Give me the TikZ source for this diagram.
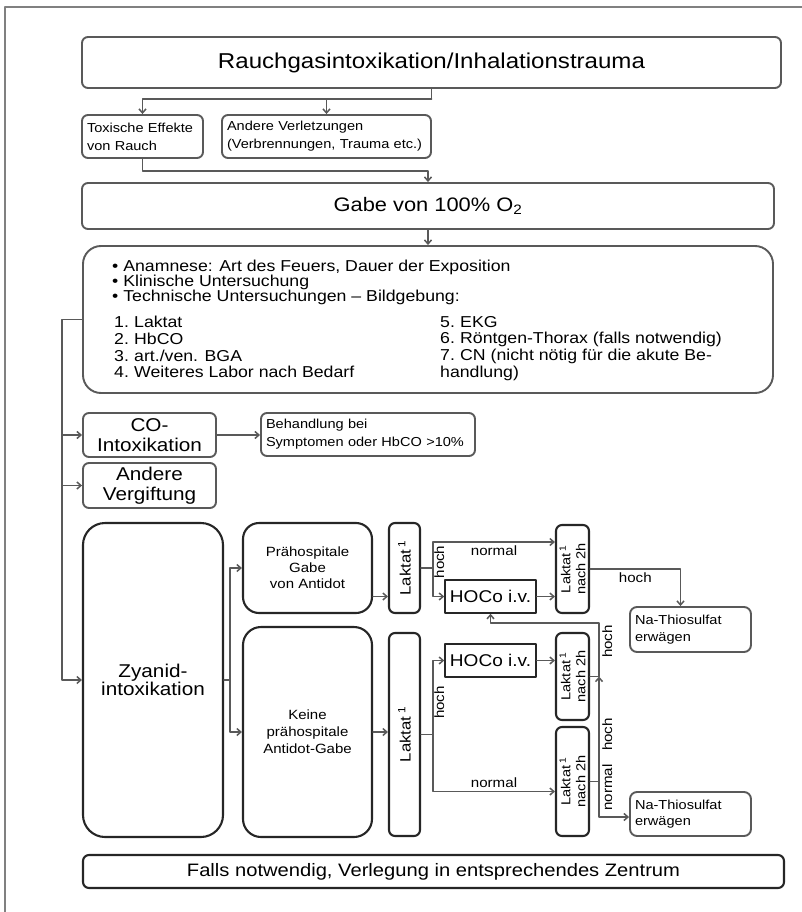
\documentclass[tikz,border=0pt]{standalone}
\usepackage{fontspec}
\setmainfont{Liberation Sans}[FakeStretch=1.12]
\usetikzlibrary{arrows.meta}
\newcommand{\fsz}[2]{\fontsize{#1}{#2}\selectfont}

\begin{document}
\begin{tikzpicture}[x=1pt, y=-1pt, line cap=round, line join=round,
  box/.style={draw=\flowBoxColor, line width=1.9pt, rounded corners=6pt, inner sep=0pt, align=center},
  lbox/.style={box, align=left, inner xsep=5pt},
  dbox/.style={box, draw=\flowDarkColor, line width=2.1pt},
  ivbox/.style={box, draw=\flowDarkColor, rounded corners=0pt, line width=1.5pt, minimum width=91, minimum height=33, font=\fsz{17}{18}},
  vtxt/.style={rotate=90, align=center, inner sep=0pt},
  conn/.style={draw=\flowLineColor, line width=1.5pt},
  arr/.style={conn, -{Straight Barb[length=4pt, width=7pt]}},
  lbl/.style={font=\fsz{13.5}{15}, inner sep=1pt},
  vlbl/.style={lbl, rotate=90, anchor=north}]
% coordinates taken from the scan in px, y grows downwards
\providecommand{\flowBoxColor}{black!65}
\providecommand{\flowDarkColor}{black!85}
\providecommand{\flowLineColor}{black!65}
\providecommand{\flowFrameColor}{black!50}
\useasboundingbox (0,0) rectangle (802,912);
% frame of the figure
\draw[draw=\flowFrameColor, line width=1.8pt, line cap=butt] (5,912) -- (5,7) -- (802,7);

% upper part
\node (title) [box, minimum width=699, minimum height=51, font=\fsz{21.5}{24}] at (431.5,62.5) {Rauchgasintoxikation/Inhalationstrauma};
\node (toxic) [lbox, text width=111, minimum height=43, font=\fsz{13}{18}] at (142.5,136.5) {Toxische Effekte\\von Rauch};
\node (andere) [lbox, text width=199, minimum height=43, font=\fsz{13}{18}] at (326.5,136.5) {Andere Verletzungen\\(Verbrennungen, Trauma etc.)};
\node (gabe) [box, minimum width=692, minimum height=46, font=\fsz{19.5}{22}] at (428,206) {Gabe von 100\% O\textsubscript{2}};
\node (diag) [box, rounded corners=18pt, minimum width=690, minimum height=147] at (428,319.5) {};
\node (anam) [anchor=north west, align=left, inner sep=0pt, font=\fsz{15.8}{15}] at (112,260) {\textbullet\ Anamnese: Art des Feuers, Dauer der Exposition\\\textbullet\ Klinische Untersuchung\\\textbullet\ Technische Untersuchungen -- Bildgebung:};
\node (labL) [anchor=north west, align=left, inner sep=0pt, font=\fsz{15.8}{16.7}] at (114,316) {\makebox[20pt][l]{1.}Laktat\\\makebox[20pt][l]{2.}HbCO\\\makebox[20pt][l]{3.}art./ven. BGA\\\makebox[20pt][l]{4.}Weiteres Labor nach Bedarf};
\node (labR) [anchor=north west, align=left, inner sep=0pt, font=\fsz{15.8}{16.7}] at (440,316) {\makebox[20pt][l]{5.}EKG\\\makebox[20pt][l]{6.}Röntgen-Thorax (falls notwendig)\\\makebox[20pt][l]{7.}CN (nicht nötig für die akute Be-\\handlung)};
\node (co) [box, minimum width=133, minimum height=44, font=\fsz{18.5}{19.5}] at (149.5,435) {CO-\\Intoxikation};
\node (beh) [lbox, text width=204, minimum height=43, font=\fsz{13}{18}] at (368,434.5) {Behandlung bei\\Symptomen oder HbCO >10\%};
\node (other) [box, minimum width=133, minimum height=45, font=\fsz{18.5}{20}] at (149.5,485.5) {Andere\\Vergiftung};

% cyanide part
\node (cyan) [dbox, rounded corners=22pt, minimum width=140, minimum height=314, font=\fsz{18.5}{18}] at (153,680) {Zyanid-\\intoxikation};
\node (pre) [dbox, rounded corners=16pt, minimum width=129, minimum height=90, font=\fsz{13.4}{16}] at (307.5,568) {Prähospitale\\Gabe\\von Antidot};
\node (nopre) [dbox, rounded corners=18pt, minimum width=129, minimum height=210, font=\fsz{13.4}{17}] at (307.5,732) {Keine\\prähospitale\\Antidot-Gabe};
\node (lakA) [dbox, minimum width=31, minimum height=90] at (404.5,568) {};
\node (lakAtxt) [vtxt, font=\fsz{15}{16}] at (lakA.center) {Laktat\,\textsuperscript{1}};
\node (lakB) [dbox, minimum width=31, minimum height=203] at (404.5,734.5) {};
\node (lakBtxt) [vtxt, font=\fsz{15}{16}] at (lakB.center) {Laktat\,\textsuperscript{1}};
\node (hocoA) [ivbox] at (490.5,596.5) {HOCo i.v.};
\node (hocoB) [ivbox] at (490.5,660.5) {HOCo i.v.};
\node (lak2A) [dbox, minimum width=33, minimum height=88] at (572.5,569) {};
\node (lak2Atxt) [vtxt, font=\fsz{13}{15}] at (lak2A.center) {Laktat\,\textsuperscript{1}\\nach 2h};
\node (lak2B) [dbox, minimum width=33, minimum height=87] at (572.5,676.5) {};
\node (lak2Btxt) [vtxt, font=\fsz{13}{15}] at (lak2B.center) {Laktat\,\textsuperscript{1}\\nach 2h};
\node (lak2C) [dbox, minimum width=33, minimum height=109] at (572.5,781.5) {};
\node (lak2Ctxt) [vtxt, font=\fsz{13}{15}] at (lak2C.center) {Laktat\,\textsuperscript{1}\\nach 2h};
\node (naA) [lbox, rounded corners=7pt, text width=111, minimum height=45, font=\fsz{13}{16.7}] at (690.5,629.5) {Na-Thiosulfat\\erwägen};
\node (naB) [lbox, rounded corners=7pt, text width=111, minimum height=44, font=\fsz{13}{16.7}] at (690.5,814) {Na-Thiosulfat\\erwägen};
\node (final) [dbox, minimum width=701, minimum height=33, font=\fsz{18}{20}] at (433.5,871.5) {Falls notwendig, Verlegung in entsprechendes Zentrum};

% connectors, upper part
\coordinate (tj) at ([yshift=-10pt]title.south);
\draw[conn] (title.south) -- (tj);
\draw[arr] (tj) -| (toxic.north);
\draw[arr] (tj -| andere.north) -- (andere.north);
\draw[arr] (toxic.south) |- ([yshift=11pt]gabe.north) -- (gabe.north);
\draw[arr] (gabe.south) -- (diag.north);
\coordinate (trunk) at ([xshift=-20pt]diag.west);
\draw[arr] (diag.west) -- (trunk) |- (cyan.west);
\draw[arr] (trunk |- co.west) -- (co.west);
\draw[arr] (trunk |- other.west) -- (other.west);
\draw[arr] (co.east) -- (beh.west |- co.east);

% connectors, cyanide part
\coordinate (cj) at ([xshift=6pt]cyan.east);
\draw[conn] (cyan.east) -- (cj);
\draw[arr] (cj) |- (pre.west);
\draw[arr] (cj) |- (nopre.west);
\draw[arr] (pre.east |- hocoA.west) -- (lakA.west |- hocoA.west);
\draw[arr] (nopre.east) -- (lakB.west |- nopre.east);
% with antidote
\coordinate (ja) at ([xshift=12pt]lakA.east);
\draw[conn] (lakA.east) -- (ja);
\draw[arr] (ja) |- ([yshift=27pt]lak2A.west) node (nA) [lbl, pos=0.75, below=2pt] {normal};
\draw[arr] (ja) |- (hocoA.west);
\node (hA) [vlbl] at ([yshift=6pt]ja) {hoch};
\draw[arr] (hocoA.east) -- (lak2A.west |- hocoA.east);
\draw[arr] (lak2A.east) -| ([xshift=-10pt]naA.north) node (hA2) [lbl, pos=0.25, below=2pt] {hoch};
% without antidote
\coordinate (jb) at ([xshift=12pt]lakB.east);
\draw[conn] (lakB.east) -- (jb);
\draw[arr] (jb) |- (hocoB.west);
\draw[arr] (jb) |- ([yshift=-10pt]lak2C.west) node (nB) [lbl, pos=0.75, above=2pt] {normal};
\node (hB) [vlbl] at ([yshift=32pt]jb) {hoch};
\draw[arr] (hocoB.east) -- (lak2B.west |- hocoB.east);
\coordinate (jc) at ([xshift=9pt]lak2C.east);
\coordinate (jd) at ([xshift=9pt]lak2B.east);
\draw[conn] (lak2C.east) -- (jc);
\draw[arr] (jc) -- (jd);
\draw[arr] (jc) |- ([yshift=-3pt]naB.west);
\node (hC) [vlbl] at ([xshift=2pt, yshift=47pt]jc) {hoch};
\node (nC) [vlbl] at ([xshift=2pt, yshift=-6pt]jc) {normal};
\draw[conn] (lak2B.east) -- (jd);
\draw[arr] (jd) |- ([yshift=-9pt]hocoA.south) -- (hocoA.south);
\node (hD) [vlbl] at ([xshift=2pt, yshift=35pt]jd) {hoch};
\end{tikzpicture}
\end{document}
